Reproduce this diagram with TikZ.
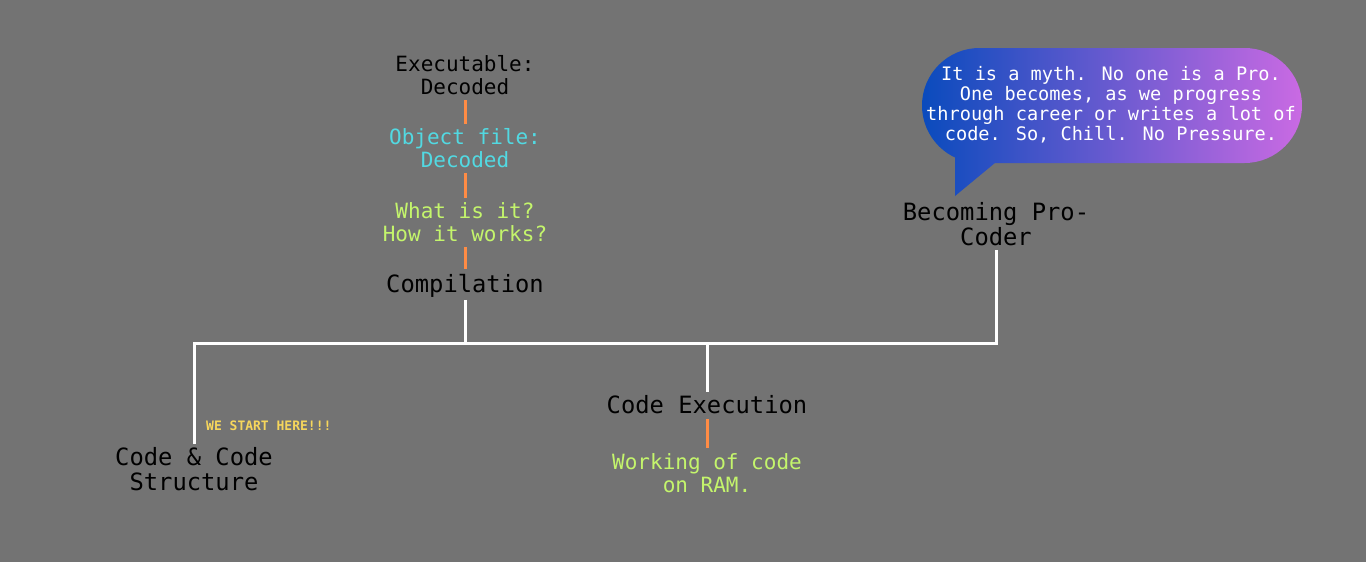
\documentclass[tikz,border=0pt]{standalone}
\usepackage{fontspec}
\newfontfamily\mono{DejaVu Sans Mono}
\definecolor{bg}{HTML}{737373}
\definecolor{ccyan}{HTML}{52D9E2}
\definecolor{cgreen}{HTML}{C4F56C}
\definecolor{cyellow}{HTML}{F6D65C}
\definecolor{corange}{HTML}{FF8C45}
\definecolor{bubL}{HTML}{0A4BBD}
\definecolor{bubR}{HTML}{CA6AE3}
\begin{document}
\begin{tikzpicture}[x=1pt,y=-1pt,
  big/.style={font=\mono\fontsize{23.8}{25}\selectfont, text=black, align=center, inner sep=2pt},
  mid/.style={font=\mono\fontsize{21}{23}\selectfont, align=center, inner sep=2pt},
  wline/.style={draw=white, line width=3pt},
  oline/.style={draw=corange, line width=3pt, shorten >=3pt, shorten <=3pt},
  bubtext/.style={font=\mono\fontsize{18.6}{20}\selectfont, text=white, align=center},
  starttext/.style={font=\mono\bfseries\fontsize{13}{15}\selectfont, text=cyellow, anchor=west, inner sep=0pt}
]
\fill[bg] (0,0) rectangle (1366,562);
\useasboundingbox (0,0) rectangle (1366,562);

% bubble
\shade[left color=bubL, right color=bubR]
  (922,48) [rounded corners=57.5] rectangle (1302,163) [sharp corners]
  (955,150) -- (955,196) -- (1001,158) -- cycle;
\node[bubtext] (bub) at (1111,105) {It is a myth. No one is a Pro.\\One becomes, as we progress\\through career or writes a lot of\\code. So, Chill. No Pressure.};

% nodes
\node[mid, text=black] (exe) at (465,75.5) {Executable:\\Decoded};
\node[mid, text=ccyan] (obj) at (465,148.5) {Object file:\\Decoded};
\node[mid, text=cgreen] (what) at (465,222.5) {What is it?\\How it works?};
\node[big] (comp) at (465,286) {Compilation};
\node[big] (ccs) at (194,469.5) {Code \& Code\\Structure};
\node[big] (exec) at (707,405) {Code Execution};
\node[mid, text=cgreen] (work) at (707,473) {Working of code\\on RAM.};
\node[big] (pro) at (996,224.5) {Becoming Pro-\\Coder};
\node[starttext] (start) at (206,426) {WE START HERE!!!};

\coordinate (jL) at (194,343);
\coordinate (j1) at (465,343);
\coordinate (jM) at (707,343);
\coordinate (jR) at (996,343);

% connectors
\draw[oline] (exe) -- (obj);
\draw[oline] (obj) -- (what);
\draw[oline] (what) -- (comp);
\draw[oline] (exec) -- (work);
\draw[wline, line join=miter, shorten <=2pt, shorten >=2pt] (ccs) -- (jL) -- (jR) -- (pro);
\draw[wline] (comp) -- (j1);
\draw[wline, shorten >=2pt] (jM) -- (exec);
\end{tikzpicture}
\end{document}
